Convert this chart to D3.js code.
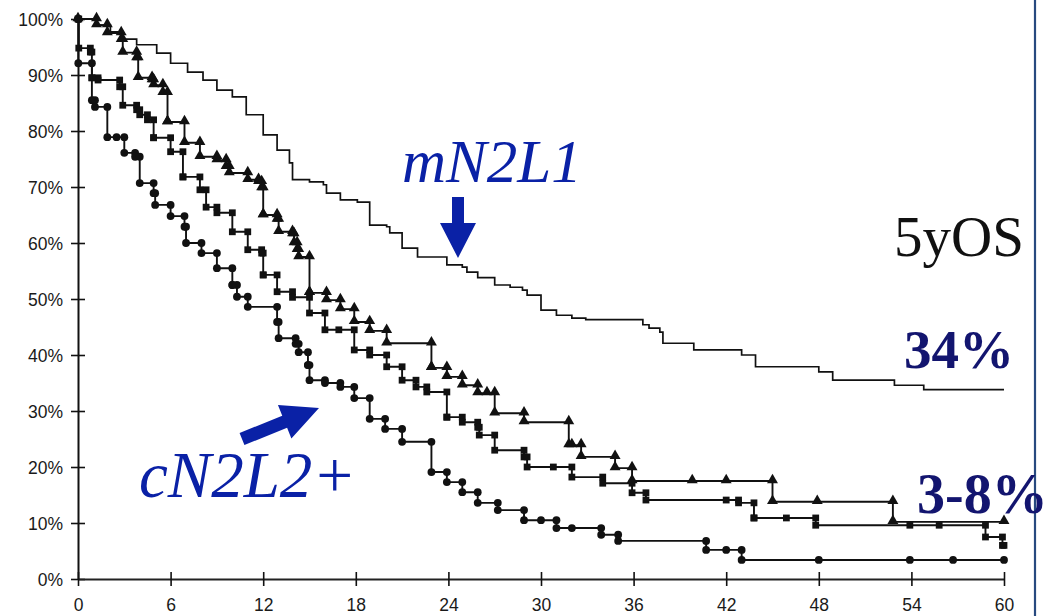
<!DOCTYPE html>
<html>
<head>
<meta charset="utf-8">
<script src="https://cdn.jsdelivr.net/npm/d3@7"></script>
<style>
  html, body { margin: 0; padding: 0; background: #fff; }
  svg { display: block; }
</style>
</head>
<body>
<svg id="chart" width="1055" height="616"></svg>
<script>
// survival curves, months vs %; each array pair is a step function (time of drop, value after)
const xTicks = [0, 6, 12, 18, 24, 30, 36, 42, 48, 54, 60];
const yTicks = [0, 10, 20, 30, 40, 50, 60, 70, 80, 90, 100];

// mN2L1 (no symbols)
const mTimes = [0, 1.2, 2.1, 2.9, 3.8, 5.1, 6.0, 7.1, 8.1, 9.0, 10.0, 10.9, 12.0, 12.9, 13.7, 13.9, 15.0, 15.9, 16.1, 17.0, 18.1, 18.9, 20.0, 20.2, 21.0, 22.0, 23.9, 24.9, 25.2, 25.9, 27.0, 28.0, 28.8, 29.1, 30.0, 31.0, 32.0, 32.9, 36.6, 37.0, 37.7, 37.9, 39.9, 43.0, 43.9, 48.0, 48.9, 52.9, 54.8];
const mSurv  = [100, 98.9, 97.7, 96.4, 95.4, 93.9, 92.1, 90.5, 89.1, 87.3, 86.1, 82.9, 79.3, 76.6, 74.3, 71.3, 70.9, 70.4, 68.9, 67.7, 67.3, 63.2, 62.9, 61.8, 59.1, 57.5, 56.1, 55.7, 54.8, 53.8, 52.5, 52.1, 51.6, 50.7, 48.0, 47.1, 46.6, 46.3, 45.4, 44.8, 44.1, 42.1, 40.9, 40.0, 37.9, 37.0, 35.5, 34.6, 33.8];

// triangles
const triTimes = [0, 1.2, 1.9, 2.8, 2.9, 3.8, 3.9, 4.8, 4.9, 5.5, 5.8, 6.9, 7.9, 9.0, 9.6, 9.8, 11.0, 11.7, 11.9, 12.0, 12.9, 13.0, 13.9, 14.0, 14.2, 14.3, 15.0, 16.1, 17.0, 17.9, 18.9, 20.0, 22.9, 23.9, 24.9, 25.9, 27.0, 28.9, 31.8, 32.6, 34.8, 35.9, 45.0, 52.8];
const triSurv  = [100, 98.9, 97.5, 96.3, 94.0, 93.0, 89.5, 89.1, 88.2, 86.8, 81.6, 77.9, 75.4, 74.8, 73.6, 72.5, 71.3, 70.9, 69.8, 65.0, 64.2, 62.0, 61.6, 60.0, 58.8, 57.5, 51.1, 49.8, 48.2, 45.9, 44.3, 42.1, 37.7, 36.1, 34.6, 33.2, 29.6, 28.0, 23.9, 21.8, 19.8, 17.5, 13.8, 10.2];
const triCens  = [5.8, 12.0, 15.0, 22.9, 26.5, 32.0, 39.8, 42.0, 47.9, 60];

// squares
const sqTimes = [0, 0.05, 0.8, 0.9, 1.3, 2.7, 2.9, 3.8, 4.0, 4.5, 4.9, 6.0, 6.8, 7.9, 8.3, 9.0, 10.0, 11.0, 11.9, 12.0, 12.9, 13.9, 15.0, 16.0, 17.9, 18.9, 20.0, 21.0, 21.9, 22.6, 23.9, 24.9, 25.9, 26.0, 27.0, 28.9, 29.1, 32.0, 34.0, 35.9, 36.8, 42.8, 43.8, 47.8, 58.8, 59.9];
const sqSurv  = [100, 94.8, 94.1, 89.5, 89.1, 87.9, 84.6, 83.8, 82.9, 82.0, 78.8, 76.3, 71.8, 69.5, 66.4, 65.4, 62.0, 58.8, 58.2, 54.3, 51.3, 50.3, 47.5, 44.5, 40.9, 40.0, 37.9, 35.5, 34.3, 33.4, 28.9, 28.0, 27.1, 25.7, 23.0, 21.8, 20.0, 18.2, 17.1, 15.4, 14.1, 13.6, 10.9, 9.6, 7.5, 6.0];
const sqCens  = [0.9, 4.9, 6.8, 12.0, 16.9, 23.9, 30.8, 42.0, 43.8, 45.9, 53.9, 55.8, 60];

// circles
const cirTimes = [0, 0.02, 0.9, 1.1, 1.9, 3.0, 3.7, 4.0, 4.9, 5.0, 6.0, 6.9, 7.0, 8.0, 9.0, 10.0, 10.3, 11.0, 12.9, 13.0, 14.1, 14.3, 14.9, 15.0, 16.0, 17.0, 17.9, 18.9, 19.9, 21.0, 22.9, 23.9, 24.9, 25.9, 27.2, 28.9, 31.0, 33.9, 35.0, 40.7, 43.0];
const cirSurv  = [100, 92.1, 85.5, 84.3, 78.9, 76.1, 75.4, 70.7, 68.9, 66.8, 64.8, 62.9, 60.0, 58.2, 55.5, 52.5, 50.4, 48.6, 45.9, 43.0, 42.0, 40.5, 38.2, 35.5, 35.0, 34.3, 32.3, 28.6, 26.8, 24.5, 19.1, 17.3, 15.5, 13.6, 12.3, 10.5, 9.1, 7.9, 6.8, 5.2, 3.4];
const cirCens  = [2.5, 10.0, 14.9, 30.0, 32.0, 42.0, 48.0, 53.9, 56.7, 60];

const svg = d3.select('#chart');
const x = d3.scaleLinear().domain([0, 60]).range([78, 1004]);
const y = d3.scaleLinear().domain([0, 100]).range([579, 19]);

const INK = '#111';
const SANS = '"Liberation Sans", Arial, sans-serif';
const SERIF = '"Liberation Serif", "Times New Roman", serif';

// right border line
svg.append('line').attr('x1', 1035).attr('x2', 1035).attr('y1', 0).attr('y2', 616)
  .attr('stroke', '#27497f').attr('stroke-width', 2.2);

// axes
const yAxis = d3.axisLeft(y).tickValues(yTicks).tickSize(0).tickFormat(d => d + '%');
const gy = svg.append('g').attr('transform', 'translate(78,0)').call(yAxis);
gy.select('.domain').attr('stroke', INK).attr('stroke-width', 2);
gy.selectAll('.tick text').attr('x', -15).attr('dy', '0.36em')
  .attr('font-family', SANS).attr('font-size', 17.5).attr('fill', '#1a1a1a');
gy.selectAll('.tick').append('line').attr('x1', -7).attr('x2', 7).attr('stroke', INK).attr('stroke-width', 1.6);

const xAxis = d3.axisBottom(x).tickValues(xTicks).tickSize(0);
const gx = svg.append('g').attr('transform', 'translate(0,579)').call(xAxis);
gx.select('.domain').attr('stroke', '#222').attr('stroke-width', 2);
gx.selectAll('.tick text').attr('y', 20).attr('dy', '0.71em')
  .attr('font-family', SANS).attr('font-size', 17.5).attr('fill', '#1a1a1a');
gx.selectAll('.tick').append('line').attr('y1', -7).attr('y2', 7).attr('stroke', INK).attr('stroke-width', 1.6);

// curves
function stepPoints(ts, vs) {
  const pts = ts.map((t, i) => [t, vs[i]]);
  pts.push([60, vs[vs.length - 1]]);
  return pts;
}
function valueAt(ts, vs, t) {
  const i = d3.bisectRight(ts, t) - 1;
  return vs[Math.max(0, i)];
}
const line = d3.line().x(d => x(d[0])).y(d => y(d[1])).curve(d3.curveStepAfter);

const curves = [
  { ts: mTimes, vs: mSurv, cens: [], sym: null, w: 1.7 },
  { ts: triTimes, vs: triSurv, cens: triCens, sym: d3.symbolTriangle, size: 52, w: 1.9 },
  { ts: sqTimes, vs: sqSurv, cens: sqCens, sym: d3.symbolSquare, size: 46, w: 1.9 },
  { ts: cirTimes, vs: cirSurv, cens: cirCens, sym: d3.symbolCircle, size: 48, w: 1.9 }
];

curves.forEach(c => {
  svg.append('path').datum(stepPoints(c.ts, c.vs))
    .attr('d', line).attr('fill', 'none').attr('stroke', INK).attr('stroke-width', c.w);
  if (!c.sym) return;
  // symbols at both corners of each drop, plus on the flats
  const marks = [];
  c.ts.forEach((t, i) => {
    if (i > 0) marks.push([t, c.vs[i - 1]]);
    marks.push([t, c.vs[i]]);
  });
  c.cens.forEach(t => marks.push([t, valueAt(c.ts, c.vs, t)]));
  svg.append('g').selectAll('path').data(marks).join('path')
    .attr('transform', d => `translate(${x(d[0])},${y(d[1]) + (c.sym === d3.symbolTriangle ? -1 : 0)})`)
    .attr('d', d3.symbol().type(c.sym).size(c.size))
    .attr('fill', INK);
});

// annotations
const BLUE = '#0a21a6';
const NAVY = '#13156f';

svg.append('text').attr('x', 402).attr('y', 182)
  .attr('font-family', SERIF).attr('font-size', 61).attr('font-style', 'italic')
  .attr('fill', BLUE).text('mN2L1');
svg.append('polygon')
  .attr('points', '452,197 464,197 464,223 476,223 458,258 440,223 452,223')
  .attr('fill', BLUE);

svg.append('text').attr('x', 139).attr('y', 497)
  .attr('font-family', SERIF).attr('font-size', 65).attr('font-style', 'italic')
  .attr('fill', BLUE).text('cN2L2+');

// diagonal arrow: tail (242,439) to tip (319,408)
const ang = Math.atan2(408 - 439, 319 - 242) * 180 / Math.PI;
svg.append('polygon')
  .attr('points', '0,-6.5 46,-6.5 46,-18 83,0 46,18 46,6.5 0,6.5')
  .attr('transform', `translate(242,439) rotate(${ang})`)
  .attr('fill', BLUE);

svg.append('text').attr('x', 894).attr('y', 256)
  .attr('font-family', SERIF).attr('font-size', 57).attr('fill', '#111').text('5yOS');
svg.append('text').attr('x', 904).attr('y', 368)
  .attr('font-family', SERIF).attr('font-size', 55).attr('font-weight', 'bold')
  .attr('fill', NAVY).text('34%');
svg.append('text').attr('x', 917).attr('y', 513)
  .attr('font-family', SERIF).attr('font-size', 56).attr('font-weight', 'bold')
  .attr('fill', NAVY).text('3-8%');
</script>
</body>
</html>
